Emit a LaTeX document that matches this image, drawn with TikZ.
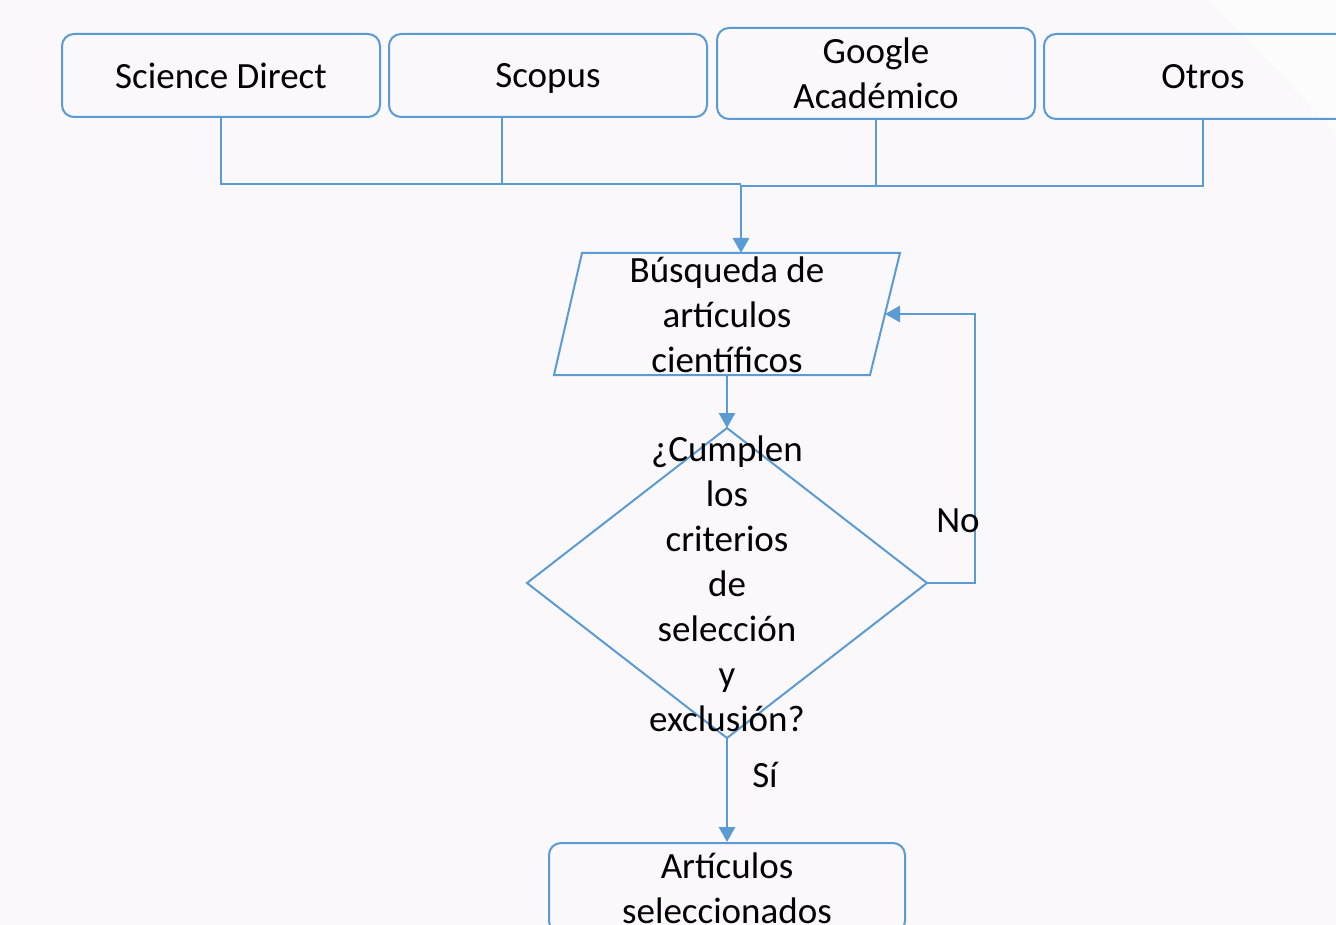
\documentclass[tikz,border=0pt]{standalone}
\usepackage{fontspec}
\setmainfont{Carlito}
\usetikzlibrary{arrows.meta,shapes.geometric}
\definecolor{lineblue}{HTML}{5B9BD5}
\definecolor{bgcol}{HTML}{FAF8FA}
\begin{document}
\begin{tikzpicture}[x=1pt,y=-1pt,
  font=\fontsize{37}{45}\selectfont,
  srcbox/.style={draw=lineblue, line width=2pt, rounded corners=12pt,
    minimum width=318pt, minimum height=83pt, align=center, inner sep=0pt},
  shapeline/.style={draw=lineblue, line width=2pt},
  conn/.style={draw=lineblue, line width=2.8pt},
  arr/.style={conn, -{Triangle[width=16pt,length=15pt]}},
  txt/.style={align=center, inner sep=0pt, text=black}]
\fill[bgcol] (0,0) rectangle (1336,925);
\fill[white, opacity=0.6] (1210,0) -- (1336,0) -- (1336,133) -- cycle;
\useasboundingbox (0,0) rectangle (1336,925);
% sources
\node[srcbox] (sd) at (221,75.5) {Science Direct};
\node[srcbox, text depth=0pt] (sc) at (548,75.5) {Scopus};
\node[srcbox, minimum height=91pt] (ga) at (876,73.5) {Google\\Académico};
\node[srcbox, minimum height=85pt] (ot) at (1203,76.5) {Otros};
% bus
\coordinate (busM) at (741,185);
\coordinate (busL) at (741,184);
\coordinate (busR) at (741,186);
\draw[conn] (sd.south) -- (sd.south |- busL) -- (busL);
\draw[conn] (busR) -- (ot.south |- busR) -- (ot.south);
\draw[conn] ([xshift=-46pt]sc.south) -- ([xshift=-46pt]sc.south |- busL);
\draw[conn] (ga.south) -- (ga.south |- busR);
% parallelogram
\coordinate (pTL) at (582,253);
\coordinate (pTR) at (900,253);
\coordinate (pBR) at (870,375);
\coordinate (pBL) at (554,375);
\coordinate (pT) at (741,253);
\coordinate (pB) at (727,375);
\coordinate (pR) at (885,314);
\draw[shapeline] (pTL) -- (pTR) -- (pBR) -- (pBL) -- cycle;
\node[txt] (busq) at (727,315) {Búsqueda de\\artículos\\científicos};
\draw[arr] (busM) -- (pT);
% decision
\node[diamond, shapeline, minimum width=400pt, minimum height=310pt,
  inner sep=0pt, outer sep=0pt] (dec) at (727,583) {};
\node[txt] (dectext) at (727,583.5) {¿Cumplen\\los\\criterios\\de\\selección\\y\\exclusión?};
\draw[arr] (pB) -- (dec.north);
\draw[arr] (dec.east) -- ++(48,0) |- (pR);
\node[txt] (no) at (958,521) {No};
% result
\node[srcbox, minimum width=356pt, minimum height=90pt] (res) at (727,888) {Artículos\\seleccionados};
\draw[arr] (dec.south) -- (res.north);
\node[txt] (si) at (765,775) {Sí};
\end{tikzpicture}
\end{document}
